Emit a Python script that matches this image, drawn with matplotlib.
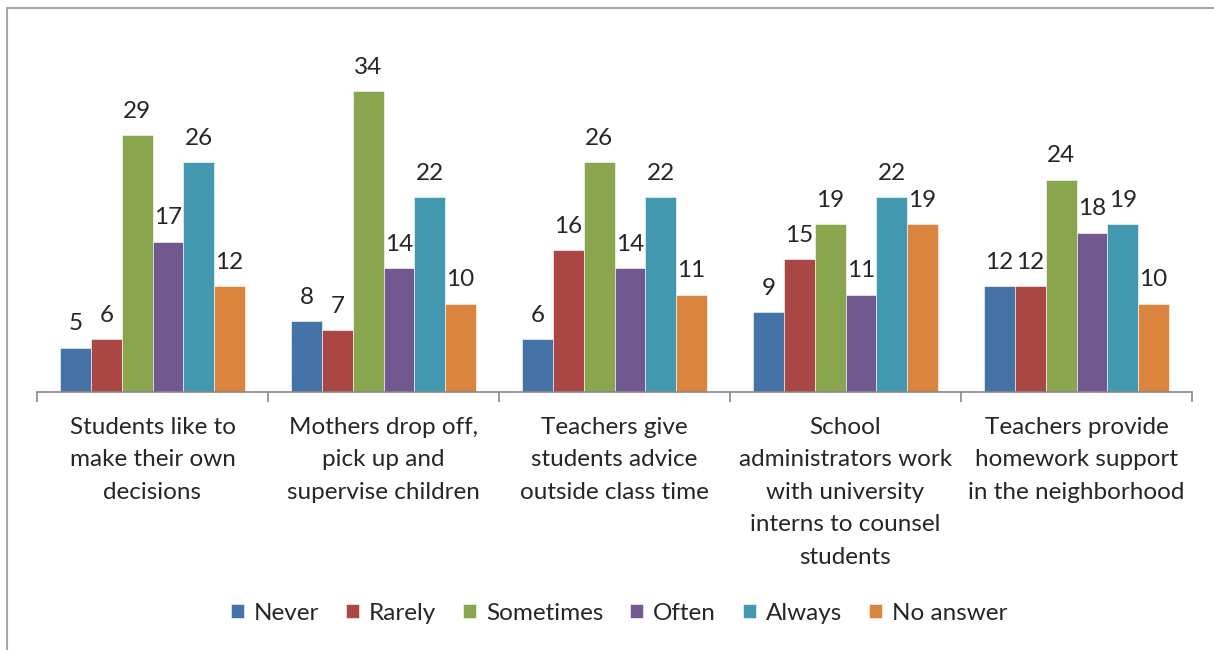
import numpy as np
import matplotlib.pyplot as plt
from matplotlib.patches import Rectangle

# Data
categories = ["Students like to\nmake their own\ndecisions",
              "Mothers drop off,\npick up and\nsupervise children",
              "Teachers give\nstudents advice\noutside class time",
              "School\nadministrators work\nwith university\ninterns to counsel\nstudents",
              "Teachers provide\nhomework support\nin the neighborhood"]
series_names = ["Never", "Rarely", "Sometimes", "Often", "Always", "No answer"]
never = [5, 8, 6, 9, 12]
rarely = [6, 7, 16, 15, 12]
sometimes = [29, 34, 26, 19, 24]
often = [17, 14, 14, 11, 18]
always = [26, 22, 22, 22, 19]
no_answer = [12, 10, 11, 19, 10]
colors = ["#4572A7", "#AA4643", "#89A54E", "#71588F", "#4198AF", "#DB843D"]

fontl = 17.5
plt.rcParams['font.family'] = ['Lato', 'DejaVu Sans']

fig = plt.figure(figsize=(12.14, 6.5), dpi=100)
ax = fig.add_axes([37/1214, 1-392/650, (1192-37)/1214, (392-38)/650])

# outer chart border (only top and left are visible in the crop)
fig.patches.append(Rectangle((7/1214, -0.1), 1.2, 1-8/650+0.1, transform=fig.transFigure,
                             fill=False, edgecolor='#A6A6A6', lw=1.5))

data = [never, rarely, sometimes, often, always, no_answer]
x = np.arange(len(categories))
bw = 0.8/6
for i, vals in enumerate(data):
    pos = x - 0.4 + bw*(i+0.5)
    bars = ax.bar(pos, vals, width=bw, color=colors[i], edgecolor='white', lw=0.4,
                  label=series_names[i])
    for p, v in zip(pos, vals):
        ax.text(p, v + 1.5, str(v), ha='center', va='bottom', fontsize=fontl, color='#262626')

ax.set_xlim(-0.5, len(categories)-0.5)
ax.set_ylim(0, 40)
ax.set_yticks([])
for s in ['top', 'right', 'left']:
    ax.spines[s].set_visible(False)
ax.spines['bottom'].set_color('#888888')
ax.spines['bottom'].set_linewidth(1.2)
ax.set_xticks(np.arange(-0.5, len(categories)), minor=False)
ax.set_xticklabels([])
ax.tick_params(axis='x', length=7, color='#888888', width=1.2)
for xi, c in zip(x, categories):
    ax.annotate(c, xy=(xi, 0), xycoords=('data', 'axes fraction'), xytext=(0, -18),
                textcoords='offset points', ha='center', va='top', fontsize=fontl,
                color='#262626', linespacing=1.67)

fig.legend(loc='center', bbox_to_anchor=(619/1214, 1-613/650), ncol=6, frameon=False,
           fontsize=fontl, handlelength=0.55, handleheight=0.55, handletextpad=0.4,
           columnspacing=1.1, labelcolor='#262626')

fig.savefig('out.png')
plt.close(fig)
